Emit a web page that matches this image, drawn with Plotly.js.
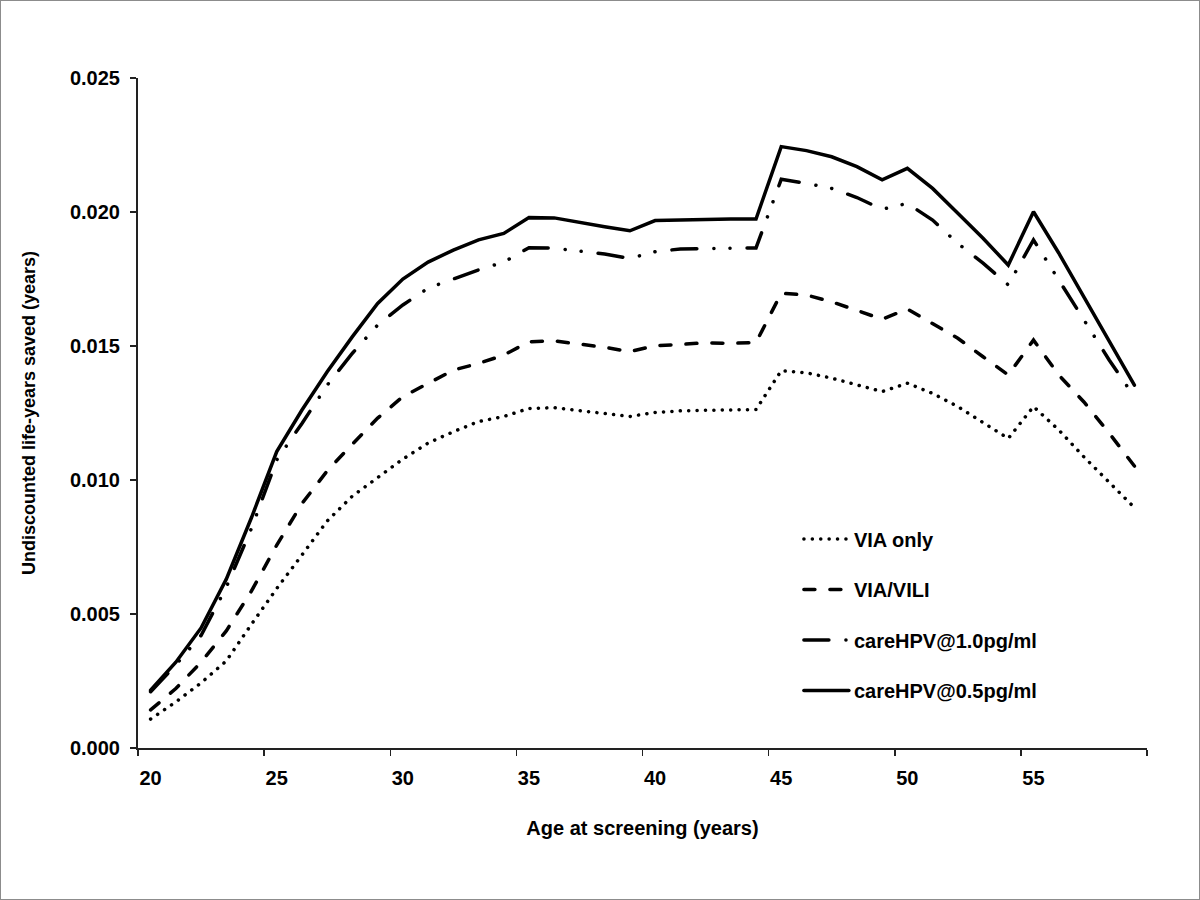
<!DOCTYPE html>
<html>
<head>
<meta charset="utf-8">
<script src="https://cdn.plot.ly/plotly-3.0.1.min.js"></script>
<style>
  html, body { margin: 0; padding: 0; background: #fff; }
  #frame { position: absolute; left: 0; top: 0; width: 1200px; height: 900px; box-sizing: border-box; border: 1px solid #8c8c8c; }
  #chart { position: absolute; left: 0; top: 0; width: 1200px; height: 900px; }
  .scatterlayer .js-line, .legend .js-line { stroke-linecap: round !important; }
</style>
</head>
<body>
<div id="chart"></div>
<div id="frame"></div>
<script>
// Age at screening (years)
const ages = [20,21,22,23,24,25,26,27,28,29,30,31,32,33,34,35,36,37,38,39,
              40,41,42,43,44,45,46,47,48,49,50,51,52,53,54,55,56,57,58,59];

const viaOnly = [0.00108,0.00172,0.00243,0.00325,0.00462,0.00595,0.00720,0.00847,0.00940,0.01007,
                 0.01078,0.01138,0.01180,0.01218,0.01237,0.01267,0.01270,0.01259,0.01249,0.01237,
                 0.01252,0.01258,0.01260,0.01262,0.01263,0.01408,0.01400,0.01380,0.01354,0.01330,
                 0.01361,0.01323,0.01274,0.01216,0.01155,0.01274,0.01187,0.01086,0.00991,0.00897];

const viaVili = [0.00142,0.00222,0.00320,0.00437,0.00586,0.00757,0.00912,0.01034,0.01134,0.01231,
                 0.01311,0.01360,0.01410,0.01435,0.01466,0.01516,0.01519,0.01507,0.01495,0.01479,
                 0.01501,0.01506,0.01512,0.01510,0.01513,0.01697,0.01690,0.01665,0.01634,0.01600,
                 0.01638,0.01585,0.01529,0.01460,0.01392,0.01522,0.01392,0.01291,0.01175,0.01052];

const careHPV10 = [0.00210,0.00310,0.00420,0.00600,0.00820,0.01075,0.01211,0.01354,0.01473,0.01578,
                   0.01653,0.01716,0.01750,0.01784,0.01813,0.01867,0.01865,0.01855,0.01843,0.01827,
                   0.01852,0.01862,0.01864,0.01866,0.01866,0.02122,0.02107,0.02088,0.02054,0.02010,
                   0.02032,0.01970,0.01883,0.01809,0.01728,0.01896,0.01746,0.01597,0.01448,0.01310];

const careHPV05 = [0.00216,0.00320,0.00448,0.00630,0.00860,0.01106,0.01261,0.01404,0.01535,0.01659,
                   0.01750,0.01813,0.01858,0.01896,0.01920,0.01979,0.01978,0.01960,0.01945,0.01930,
                   0.01968,0.01970,0.01973,0.01974,0.01974,0.02244,0.02229,0.02206,0.02169,0.02120,
                   0.02163,0.02088,0.01995,0.01902,0.01802,0.02001,0.01847,0.01684,0.01522,0.01354];

const seriesNames = ['VIA only', 'VIA/VILI', 'careHPV@1.0pg/ml', 'careHPV@0.5pg/ml'];
const xTickVals = [20,25,30,35,40,45,50,55];
const xTickText = ['20','25','30','35','40','45','50','55'];
const yTickVals = [0, 0.005, 0.010, 0.015, 0.020, 0.025];

const FONT = 'Liberation Sans, Arial, Helvetica, sans-serif';
const lw = 3.5;

const traces = [
  {x: ages, y: viaOnly, name: seriesNames[0], legendgroup: 'a',
   line: {color: '#000', width: lw, dash: '0.1px,8.3px'}},
  {x: ages, y: viaVili, name: seriesNames[1], legendgroup: 'b',
   line: {color: '#000', width: lw, dash: '11px,15px'}},
  {x: ages, y: careHPV10, name: seriesNames[2], legendgroup: 'c',
   line: {color: '#000', width: lw, dash: '25px,17px,0.1px,16px,0.1px,17px'}},
  {x: ages, y: careHPV05, name: seriesNames[3], legendgroup: 'd',
   line: {color: '#000', width: lw, dash: 'solid'}}
].map(t => Object.assign({type: 'scatter', mode: 'lines', hoverinfo: 'skip'}, t));

const layout = {
  width: 1200, height: 900,
  paper_bgcolor: '#fff', plot_bgcolor: '#fff',
  font: {family: FONT, size: 20, color: '#000', weight: 'bold'},
  margin: {l: 138, r: 53, t: 78, b: 152},
  showlegend: true,
  legend: {
    x: 0.655, y: 0.341, xanchor: 'left', yanchor: 'top',
    traceorder: 'grouped', tracegroupgap: 21.5,
    itemwidth: 45,
    font: {family: FONT, size: 20, color: '#000', weight: 'bold'},
    bgcolor: 'rgba(0,0,0,0)', borderwidth: 0
  },
  xaxis: {
    range: [19.5, 59.5],
    tickmode: 'array', tickvals: xTickVals, ticktext: xTickText,
    ticks: '', showgrid: false, zeroline: false,
    showline: true, linecolor: '#222', linewidth: 2,
    ticklabelstandoff: 11,
    tickfont: {family: FONT, size: 20, color: '#000', weight: 'bold'},
    minor: {tickmode: 'linear', tick0: 19.5, dtick: 5, ticks: 'outside', ticklen: 6, tickwidth: 1.5, tickcolor: '#222', showgrid: false},
    title: {text: 'Age at screening (years)', font: {family: FONT, size: 20, color: '#000', weight: 'bold'}, standoff: 33}
  },
  yaxis: {
    range: [0, 0.025],
    tickmode: 'array', tickvals: yTickVals, tickformat: '.3f',
    ticks: 'outside', ticklen: 6, tickwidth: 1.5, tickcolor: '#222',
    showgrid: false, zeroline: false,
    showline: true, linecolor: '#222', linewidth: 2,
    ticklabelstandoff: 6,
    tickfont: {family: FONT, size: 20, color: '#000', weight: 'bold'},
    title: {text: 'Undiscounted life-years saved (years)', font: {family: FONT, size: 18, color: '#000', weight: 'bold'}, standoff: 30}
  }
};

Plotly.newPlot('chart', traces, layout, {staticPlot: true, displayModeBar: false});
</script>
</body>
</html>
